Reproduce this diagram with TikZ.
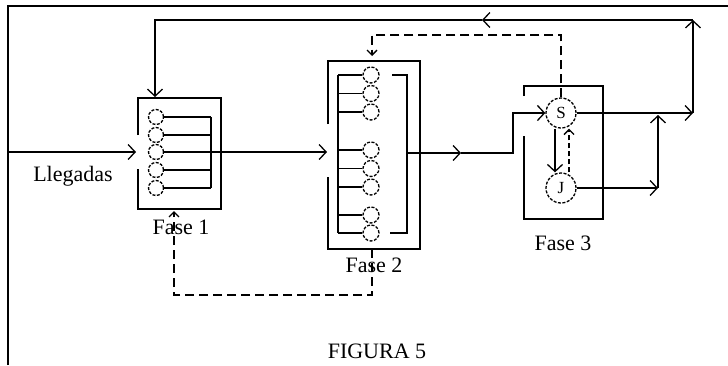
\documentclass[tikz,border=0pt]{standalone}
\usepackage{fontspec}
\setmainfont{Liberation Serif}
\usetikzlibrary{arrows.meta}
\tikzset{
  flecha/.style={-{Straight Barb[length=7pt,width=15pt]}},
  flechita/.style={-{Straight Barb[length=5pt,width=10pt]}},
  trazos/.style={dash pattern=on 9pt off 5pt},
  puesto/.style={circle,draw,dash pattern=on 3pt off 1.5pt,inner sep=0pt,minimum size=#1},
  etiqueta/.style={font=\fontsize{22}{25}\selectfont}
}
\begin{document}
\begin{tikzpicture}[x=1pt,y=-1pt,line width=1.3pt]
\useasboundingbox (0,0) rectangle (728,365);
\draw[line width=1.8pt] (8,365)--(8,6)--(728,6);
% fase 1
\draw (138,135)--(138,98)--(221,98)--(221,209)--(138,209)--(138,169);
\foreach \i/\y in {1/117,2/135,3/152,4/170,5/188}{
  \node[puesto=15pt] (u\i) at (156,\y) {};
  \draw (u\i.east)--(211,\y);
}
\draw (211,117)--(211,188);
\coordinate (ini) at (8,152);
\coordinate (ent1) at (136,152);
\coordinate (sal1) at (211,152);
\coordinate (ent2) at (327,152);
\draw[flecha] (ini)--(ent1);
\draw[flecha] (sal1)--(ent2);
\node[etiqueta] (lleg) at (73,176) {Llegadas};
\node[etiqueta] (f1) at (181,227) {Fase 1};
% fase 2
\draw (328,124)--(328,61)--(420,61)--(420,249)--(328,249)--(328,177);
\foreach \i/\y in {1/75,2/93.5,3/112,4/150,5/168.5,6/187,7/215,8/233}{
  \node[puesto=16pt] (d\i) at (371,\y) {};
  \draw (338,\y)--(d\i.west);
}
\draw (338,75)--(338,233);
\draw (392,75)--(407,75)--(407,233)--(390,233);
\node[etiqueta] (f2) at (374,265) {Fase 2};
% fase 3
\draw (524,96)--(524,86)--(603,86)--(603,219)--(524,219)--(524,136);
\node[puesto=30pt,font=\fontsize{17}{20}\selectfont] (S) at (561,113) {S};
\node[puesto=30pt,font=\fontsize{17}{20}\selectfont] (J) at (561,188) {J};
\draw[flecha] ([xshift=-6pt]S.south)--([xshift=-6pt]J.north);
\draw[flechita,dash pattern=on 5pt off 3pt] ([xshift=8pt]J.north)--([xshift=8pt]S.south);
\node[etiqueta] (f3) at (563,243) {Fase 3};
% salidas y retornos
\coordinate (sal2) at (407,153);
\coordinate (m2) at (461,153);
\coordinate (q2) at (513,153);
\draw[flecha] (sal2)--(m2);
\draw[flecha] (m2)--(q2)|-(S.west);
\coordinate (dS) at (693,113);
\coordinate (arr) at (693,20);
\coordinate (mtop) at (482,20);
\coordinate (izq) at (155,20);
\coordinate (top1) at (155,97);
\draw[flecha] (S.east)--(dS);
\draw[flecha] (dS)--(arr);
\draw[flecha] (arr)--(mtop);
\draw[flecha] (mtop)--(izq)--(top1);
\coordinate (dJ) at (658,188);
\coordinate (uJ) at (658,115);
\draw[flecha] (J.east)--(dJ);
\draw[flecha] (dJ)--(uJ);
% realimentaciones punteadas
\coordinate (t3) at (561,35);
\coordinate (t2) at (372,35);
\coordinate (top2) at (372,56);
\draw[flechita,trazos] (S.north)--(t3)--(t2)--(top2);
\coordinate (b2) at (372,249);
\coordinate (bb2) at (372,295);
\coordinate (bb1) at (174,295);
\coordinate (b1) at (174,211);
\draw[flechita,trazos] (b2)--(bb2)--(bb1)--(b1);
\node[etiqueta] (fig) at (377,351) {FIGURA 5};
\end{tikzpicture}
\end{document}
